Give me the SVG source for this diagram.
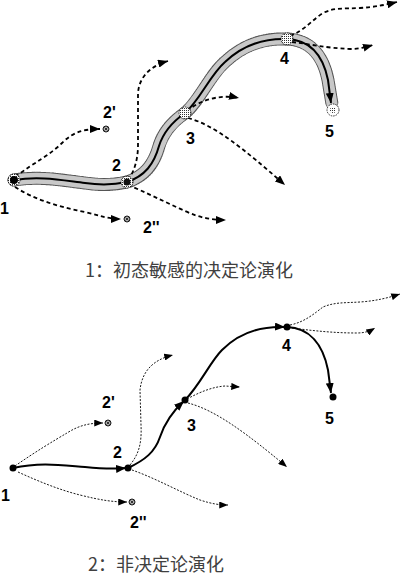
<svg xmlns="http://www.w3.org/2000/svg" width="401" height="575" viewBox="0 0 401 575">
<style>
.lbl{font-family:"Liberation Sans",Arial,sans-serif;font-weight:bold;font-size:16px;fill:#000}
.cap{font-family:"Noto Sans CJK SC","Noto Sans",sans-serif;font-size:18px;fill:#404040}
.dash{fill:none;stroke:#000;stroke-width:1.8;stroke-dasharray:4,3}
.dot{fill:none;stroke:#000;stroke-width:0.9;stroke-dasharray:2,1.5}
.main{fill:none;stroke:#000;stroke-width:2}
.tubeo{fill:none;stroke:#555;stroke-width:13;stroke-dasharray:1,1.5;stroke-linecap:round}
.tubei{fill:none;stroke:#c8c8c8;stroke-width:11;stroke-linecap:round}
.ring{fill:url(#dots);stroke:#000;stroke-width:0.8;stroke-dasharray:1.5,1}
.mk{fill:#fff;stroke:#000;stroke-width:0.9}
</style>
<defs>
<marker id="ah" viewBox="0 0 10 8" refX="10" refY="4" markerWidth="10" markerHeight="8" markerUnits="userSpaceOnUse" orient="auto"><path d="M0,0 L10,4 L0,8 Z" fill="#000"/></marker>
<marker id="ahs" viewBox="0 0 10 8" refX="10" refY="4" markerWidth="9" markerHeight="7" markerUnits="userSpaceOnUse" orient="auto"><path d="M0,0 L10,4 L0,8 Z" fill="#000"/></marker>
<pattern id="dots" width="2" height="2" patternUnits="userSpaceOnUse"><rect width="2" height="2" fill="#fff"/><rect width="1" height="1" fill="#333"/></pattern>
<g id="star"><circle r="3" class="mk"/><path d="M-3,0 H3 M0,-3 V3 M-2,-2 L2,2 M-2,2 L2,-2" stroke="#000" stroke-width="0.6"/></g>
</defs>

<g id="connectors">
<!-- top tube -->
<path class="tubeo" d="M14,180 C40,176 60,180 85,183 C105,186 118,184 127,182 C145,176 154,164 159,146 C164,130 175,120 185,113 C200,100 210,75 225,62 C242,46 262,38 287,39 C310,40 323,55 328,80 L332,104"/>
<path class="tubei" d="M14,180 C40,176 60,180 85,183 C105,186 118,184 127,182 C145,176 154,164 159,146 C164,130 175,120 185,113 C200,100 210,75 225,62 C242,46 262,38 287,39 C310,40 323,55 328,80 L332,104"/>
<path class="main" marker-end="url(#ah)" d="M14,180 C40,176 60,180 85,183 C105,186 118,184 127,182 C145,176 154,164 159,146 C164,130 175,120 185,113 C200,100 210,75 225,62 C242,46 262,38 287,39 C310,40 323,55 328,80 L331,103"/>
<!-- top dashed branches -->
<path class="dash" marker-end="url(#ah)" d="M15,177 C35,162 50,155 62,143 C72,133 82,129 100,129"/>
<path class="dash" marker-end="url(#ah)" d="M15,187 C35,200 60,207 85,212 C98,215 108,219 121,219"/>
<path class="dash" marker-end="url(#ah)" d="M128,180 C134,172 138,160 138,145 L138,95 C138,78 150,66 168,61"/>
<path class="dash" marker-end="url(#ah)" d="M128,185 C145,192 165,202 185,211 C200,218 212,220 226,220"/>
<path class="dash" marker-end="url(#ah)" d="M187,111 C200,100 220,94 239,98"/>
<path class="dash" marker-end="url(#ah)" d="M188,118 C215,125 245,150 285,185"/>
<path class="dash" marker-end="url(#ah)" d="M290,36 C305,30 312,20 323,13 C335,7 345,9 360,8 C375,7 385,5 397,2"/>
<path class="dash" marker-end="url(#ah)" d="M292,42 C310,44 325,48 350,49 C360,49 366,47 373,45"/>
<!-- bottom main -->
<path class="main" marker-end="url(#ah)" d="M13,468 C40,462 60,465 85,467 C105,469 115,469 126,468"/>
<path class="main" marker-end="url(#ah)" d="M128,468 C145,460 155,452 160,437 C165,422 172,412 184,401"/>
<path class="main" marker-end="url(#ah)" d="M185,400 C200,385 210,362 222,350 C240,332 262,326 285,327"/>
<path class="main" marker-end="url(#ah)" d="M287,327 C310,328 323,345 328,370 L331,393"/>
<!-- bottom dotted branches -->
<path class="dot" marker-end="url(#ahs)" d="M15,466 C35,452 55,440 67,433 C78,426 88,423 103,423"/>
<path class="dot" marker-end="url(#ahs)" d="M18,472 C40,482 60,490 80,495 C100,500 112,502 127,502"/>
<path class="dot" marker-end="url(#ahs)" d="M130,465 C138,455 142,445 141,425 L140,390 C142,372 152,360 173,355"/>
<path class="dot" marker-end="url(#ahs)" d="M132,470 C155,478 180,492 200,500 C212,504 220,505 228,505"/>
<path class="dot" marker-end="url(#ahs)" d="M187,399 C200,392 212,387 225,386 L240,387"/>
<path class="dot" marker-end="url(#ahs)" d="M188,403 C215,410 245,432 287,467"/>
<path class="dot" marker-end="url(#ahs)" d="M290,325 C305,322 315,313 323,307 C335,302 345,303 360,302 C375,301 388,298 400,294"/>
<path class="dot" marker-end="url(#ahs)" d="M292,328 C315,331 335,333 357,333 C365,333 370,331 375,328"/>
</g>

<g id="top-node-1"><circle cx="14" cy="180" r="6" class="ring"/><circle cx="14" cy="180" r="4" fill="#000"/><text class="lbl" x="0" y="214">1</text></g>
<g id="top-node-2"><circle cx="127" cy="182" r="6" class="ring"/><circle cx="127" cy="182" r="3.5" fill="#111"/><text class="lbl" x="112" y="171">2</text></g>
<g id="top-node-2p"><use href="#star" x="106" y="129"/><text class="lbl" x="103" y="118">2'</text></g>
<g id="top-node-2pp"><use href="#star" x="127" y="219"/><text class="lbl" x="143" y="233">2''</text></g>
<g id="top-node-3"><circle cx="185" cy="113" r="6" class="ring"/><text class="lbl" x="186" y="144">3</text></g>
<g id="top-node-4"><circle cx="287" cy="39" r="6" class="ring"/><text class="lbl" x="280" y="64">4</text></g>
<g id="top-node-5"><circle cx="333" cy="110" r="6" fill="#fff" stroke="#000" stroke-width="0.8" stroke-dasharray="1.5,1"/><circle cx="333" cy="110" r="3" fill="url(#dots)"/><text class="lbl" x="325" y="137">5</text></g>

<g id="caption-1"><text class="cap" x="85" y="277">1：初态敏感的决定论演化</text></g>

<g id="bot-node-1"><circle cx="13" cy="468" r="3.5" fill="#000"/><text class="lbl" x="1" y="501">1</text></g>
<g id="bot-node-2"><circle cx="128" cy="468" r="3.5" fill="#000"/><text class="lbl" x="113" y="458">2</text></g>
<g id="bot-node-2p"><use href="#star" x="108" y="423"/><text class="lbl" x="102" y="408">2'</text></g>
<g id="bot-node-2pp"><use href="#star" x="132" y="502"/><text class="lbl" x="130" y="528">2''</text></g>
<g id="bot-node-3"><circle cx="185" cy="400" r="3.5" fill="#000"/><text class="lbl" x="187" y="431">3</text></g>
<g id="bot-node-4"><circle cx="287" cy="327" r="3.5" fill="#000"/><text class="lbl" x="282" y="351">4</text></g>
<g id="bot-node-5"><circle cx="333" cy="397" r="3.5" fill="#000"/><text class="lbl" x="325" y="424">5</text></g>

<g id="caption-2"><text class="cap" x="88" y="571">2：非决定论演化</text></g>
</svg>
